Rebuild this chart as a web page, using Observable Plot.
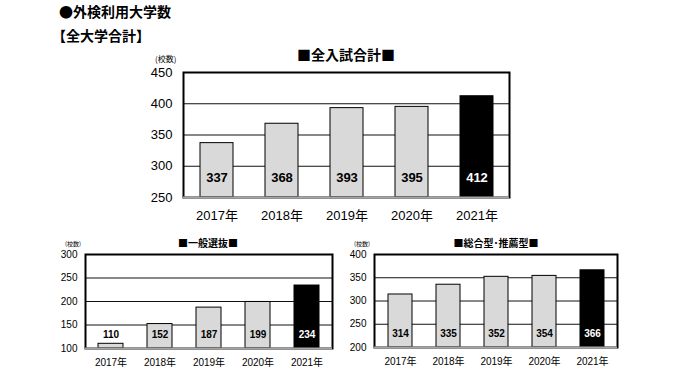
<!DOCTYPE html>
<html>
<head>
<meta charset="utf-8">
<script src="https://cdn.jsdelivr.net/npm/d3@7"></script>
<script src="https://cdn.jsdelivr.net/npm/@observablehq/plot@0.6"></script>
<style>
  html, body { margin: 0; padding: 0; background: #fff; }
  body { width: 682px; height: 384px; position: relative; overflow: hidden;
         font-family: "Liberation Sans", Arial, "Noto Sans CJK JP", sans-serif; color: #000; }
  .abs { position: absolute; white-space: nowrap; line-height: 1; }
  .head { font-family: "Noto Sans CJK JP", sans-serif; font-weight: bold; font-size: 14px; }
  .ctitle { font-family: "Noto Sans CJK JP", sans-serif; font-weight: bold; transform: translate(-50%, -50%); }
  .unit { font-family: "Noto Sans CJK JP", sans-serif; transform: translate(0, -50%); }
</style>
</head>
<body>
<div class="abs head" style="left:59px; top:4px;">●外検利用大学数</div>
<div class="abs head" style="left:52px; top:28px;">【全大学合計】</div>

<div class="abs ctitle" style="left:346px; top:54px; font-size:14px;">■全入試合計■</div>
<div class="abs ctitle" style="left:208px; top:243px; font-size:10px;">■一般選抜■</div>
<div class="abs ctitle" style="left:496px; top:243px; font-size:10px;">■総合型･推薦型■</div>

<div class="abs unit" style="left:155px; top:59px; font-size:8px;">(校数)</div>
<div class="abs unit" style="left:65px; top:244px; font-size:6px;">(校数)</div>
<div class="abs unit" style="left:354px; top:244px; font-size:6px;">(校数)</div>

<div id="top" class="abs" style="left:143px; top:62px;"></div>
<div id="left" class="abs" style="left:45px; top:244px;"></div>
<div id="right" class="abs" style="left:334px; top:244px;"></div>

<script>
const years = ["2017年", "2018年", "2019年", "2020年", "2021年"];
const totalValues = [337, 368, 393, 395, 412];
const generalValues = [110, 152, 187, 199, 234];
const comprehensiveValues = [314, 335, 352, 354, 366];

const totalTicks = [250, 300, 350, 400, 450];
const generalTicks = [100, 150, 200, 250, 300];
const comprehensiveTicks = [200, 250, 300, 350, 400];

function chart({values, ticks, labelY, width, height, marginLeft, marginBottom, fontSize, tickPadY, tickPadX}) {
  const data = years.map((year, i) => ({year, value: values[i], latest: i === years.length - 1}));
  const min = ticks[0], max = ticks[ticks.length - 1];
  return Plot.plot({
    width, height, marginLeft, marginRight: 10, marginTop: 10, marginBottom,
    style: {fontFamily: "'Liberation Sans', Arial, 'Noto Sans CJK JP', sans-serif", fontSize: fontSize + "px", color: "black", background: "transparent"},
    x: {domain: years, paddingInner: 0.5, paddingOuter: 0.25, label: null, tickSize: 0, tickPadding: tickPadX},
    y: {domain: [min, max], ticks, label: null, tickSize: 0, tickPadding: tickPadY},
    marks: [
      Plot.ruleY(ticks.slice(1, -1), {stroke: "#111", strokeWidth: 1.2}),
      Plot.barY(data, {x: "year", y1: min, y2: "value", fill: "#d9d9d9", stroke: "#000", strokeWidth: 1, filter: d => !d.latest}),
      Plot.barY(data, {x: "year", y1: min, y2: "value", fill: "#000", stroke: "#000", strokeWidth: 1, filter: d => d.latest}),
      Plot.frame({stroke: "#000", strokeWidth: 2}),
      Plot.ruleY([min], {stroke: "#a6a6a6", strokeWidth: 2}),
      Plot.text(data, {x: "year", y: labelY, text: d => String(d.value), fill: "#000", fontWeight: "bold", fontSize, filter: d => !d.latest}),
      Plot.text(data, {x: "year", y: labelY, text: d => String(d.value), fill: "#fff", fontWeight: "bold", fontSize, filter: d => d.latest})
    ]
  });
}

document.getElementById("top").append(chart({
  values: totalValues, ticks: totalTicks, labelY: 282,
  width: 376, height: 165, marginLeft: 40, marginBottom: 30,
  fontSize: 13, tickPadY: 11, tickPadX: 13
}));
document.getElementById("left").append(chart({
  values: generalValues, ticks: generalTicks, labelY: 129,
  width: 297, height: 128, marginLeft: 40, marginBottom: 24,
  fontSize: 10, tickPadY: 8, tickPadX: 10
}));
document.getElementById("right").append(chart({
  values: comprehensiveValues, ticks: comprehensiveTicks, labelY: 230,
  width: 293, height: 127, marginLeft: 40, marginBottom: 24,
  fontSize: 10, tickPadY: 8, tickPadX: 10
}));
</script>
</body>
</html>
